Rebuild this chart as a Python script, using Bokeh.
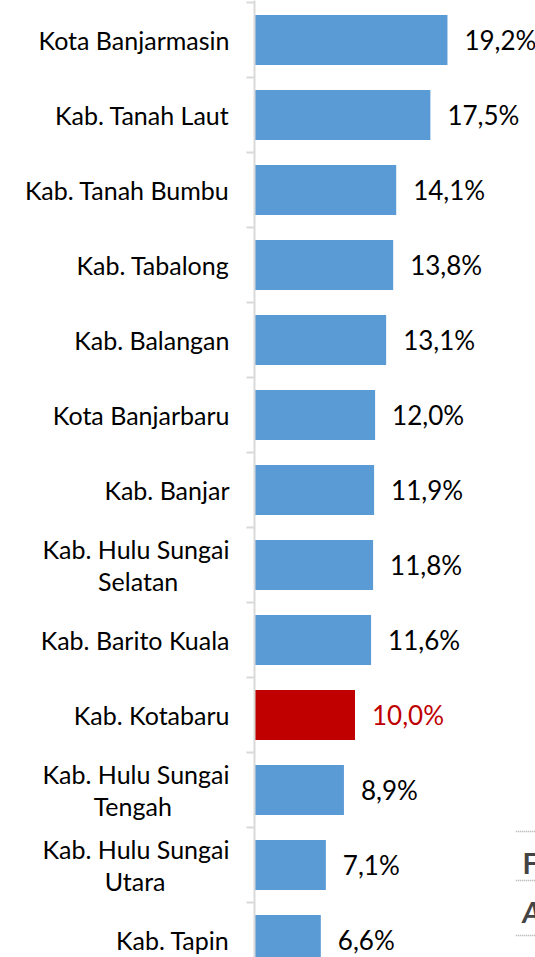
from bokeh.plotting import figure
from bokeh.models import ColumnDataSource, Range1d, FixedTicker, Label, BoxAnnotation
from bokeh.core.properties import value
from bokeh.embed import file_html
from bokeh.resources import INLINE

# ---- data ----
categories = ["Kota Banjarmasin", "Kab. Tanah Laut", "Kab. Tanah Bumbu", "Kab. Tabalong",
              "Kab. Balangan", "Kota Banjarbaru", "Kab. Banjar", "Kab. Hulu Sungai\nSelatan",
              "Kab. Barito Kuala", "Kab. Kotabaru", "Kab. Hulu Sungai\nTengah",
              "Kab. Hulu Sungai\nUtara", "Kab. Tapin"]
values = [19.2, 17.5, 14.1, 13.8, 13.1, 12.0, 11.9, 11.8, 11.6, 10.0, 8.9, 7.1, 6.6]
value_labels = ["19,2%", "17,5%", "14,1%", "13,8%", "13,1%", "12,0%", "11,9%", "11,8%",
                "11,6%", "10,0%", "8,9%", "7,1%", "6,6%"]
highlight = "Kab. Kotabaru"

BLUE = "#5B9BD5"
RED = "#C00000"
FONT = "Lato"
NBSP = "\u00a0"

# second lines of wrapped labels are centred under the first line (padding with no-break spaces)
pad_counts = {"Selatan": 8, "Tengah": 9, "Utara": 10}


def tick_text(c):
    if "\n" in c:
        a, b = c.split("\n")
        return a + "\n" + b + NBSP * pad_counts.get(b, 0)
    return c


pos = list(range(len(categories)))
bar_colors = [RED if c == highlight else BLUE for c in categories]
text_colors = [RED if c == highlight else "#000000" for c in categories]

src = ColumnDataSource(dict(y=pos, v=values, lab=value_labels, bc=bar_colors, tc=text_colors))

W, H = 535, 957
LEFT = 254
PX_PER_PCT = 10.05
PX_PER_BAND = 75.0
top = -0.5 - 2 / PX_PER_BAND
p = figure(width=W, height=H, output_backend="svg", toolbar_location=None,
           x_range=Range1d(0, (W - LEFT) / PX_PER_PCT),
           y_range=Range1d(start=top + H / PX_PER_BAND, end=top),
           min_border_left=LEFT, min_border_right=0, min_border_top=0, min_border_bottom=0)

p.hbar(y="y", right="v", left=0, height=0.667, fill_color="bc", line_color=None, source=src)
p.text(x="v", y="y", text="lab", x_offset=17, text_baseline="middle", text_align="left",
       text_color="tc", text_font=value(FONT), text_font_size="26px", source=src)

p.xaxis.visible = False
p.xgrid.visible = False
p.ygrid.visible = False
p.outline_line_color = None

ax = p.yaxis[0]
ax.ticker = FixedTicker(ticks=pos, minor_ticks=[i - 0.5 for i in range(len(categories) + 1)])
ax.major_label_overrides = {i: tick_text(c) for i, c in zip(pos, categories)}
ax.axis_line_color = "#D9D9D9"
ax.axis_line_width = 2
ax.major_tick_line_color = None
ax.major_tick_out = 0
ax.major_tick_in = 0
ax.minor_tick_line_color = "#D9D9D9"
ax.minor_tick_line_width = 2
ax.minor_tick_out = 8
ax.minor_tick_in = 0
ax.major_label_standoff = 17
ax.major_label_text_font = FONT
ax.major_label_text_font_size = "25px"
ax.major_label_text_color = "#000000"
ax.major_label_text_line_height = 1.05

# cropped fragments of neighbouring content at the lower right
p.add_layout(Label(x=26.67, y=10.967, text="F", text_font=FONT, text_font_size="28px",
                   text_font_style="bold", text_baseline="middle"))
p.add_layout(Label(x=26.67, y=11.62, text="A", text_font=FONT, text_font_size="28px",
                   text_font_style="bold italic", text_baseline="middle"))
for yy in [10.553, 11.207, 11.94]:
    p.add_layout(BoxAnnotation(left=26.0, top=yy, bottom=yy, fill_alpha=0,
                               line_color="#333333", line_dash="1 1", line_width=1.5))

open("out.html", "w").write(file_html(p, INLINE))
